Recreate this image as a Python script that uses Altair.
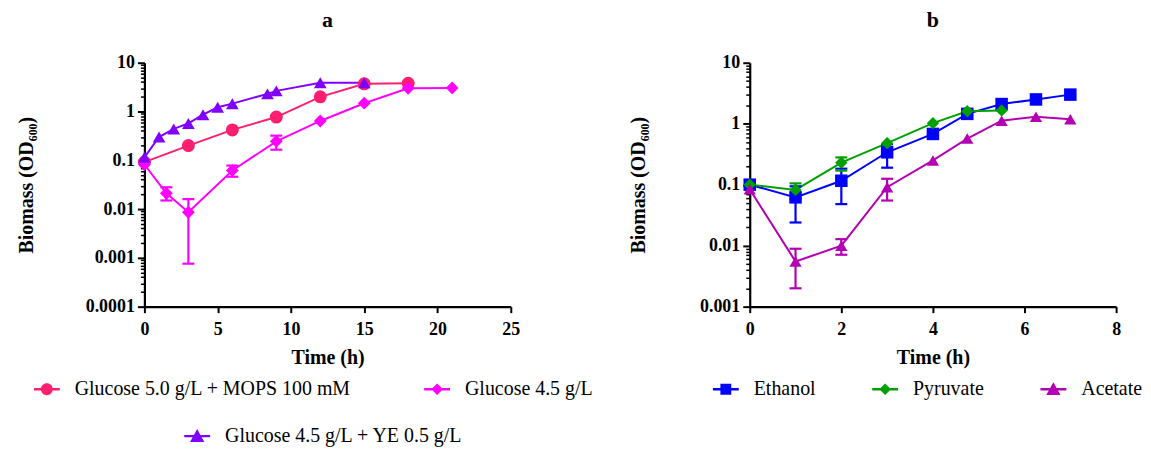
import altair as alt
import pandas as pd

FONT = "Liberation Serif"

# ---------------- Panel a data ----------------
a_names = ["Glucose 5.0 g/L + MOPS 100 mM", "Glucose 4.5 g/L", "Glucose 4.5 g/L + YE 0.5 g/L"]
a_colors = ["#FF1F70", "#FF00FF", "#7F00FF"]
a_shapes = ["circle", "diamond", "triangle-up"]
a_sizes = [170, 150, 175]

a1_t = [0, 3, 6, 9, 12, 15, 18]
a1_od = [0.092, 0.20, 0.42, 0.77, 2.0, 3.7, 3.8]
a2_t = [0, 1.5, 3, 6, 9, 12, 15, 18, 21]
a2_od = [0.082, 0.021, 0.0086, 0.062, 0.245, 0.64, 1.48, 3.0, 3.05]
a3_t = [0, 1, 2, 3, 4, 5, 6, 8.4, 9, 12, 15]
a3_od = [0.115, 0.30, 0.44, 0.57, 0.86, 1.22, 1.45, 2.3, 2.65, 3.9, 3.9]

a2_err_t = [1.5, 3, 6, 9]
a2_err_lo = [0.015, 0.00076, 0.046, 0.165]
a2_err_hi = [0.028, 0.016, 0.078, 0.32]

# ---------------- Panel b data ----------------
b_names = ["Ethanol", "Pyruvate", "Acetate"]
b_colors = ["#0000FF", "#00A000", "#B300B3"]
b_shapes = ["square", "diamond", "triangle-up"]
b_sizes = [220, 165, 175]

eth_t = [0, 1, 2, 3, 4, 4.75, 5.5, 6.25, 7]
eth_od = [0.10, 0.062, 0.116, 0.34, 0.68, 1.45, 2.1, 2.5, 3.0]
pyr_t = [0, 1, 2, 3, 4, 4.75, 5.5]
pyr_od = [0.10, 0.082, 0.23, 0.48, 1.02, 1.6, 1.65]
ace_t = [0, 1, 2, 3, 4, 4.75, 5.5, 6.25, 7]
ace_od = [0.084, 0.0055, 0.0100, 0.091, 0.25, 0.57, 1.12, 1.30, 1.18]

eth_err_t = [1, 2, 3]
eth_err_lo = [0.024, 0.048, 0.19]
eth_err_hi = [0.094, 0.183, 0.46]
pyr_err_t = [1, 2]
pyr_err_lo = [0.058, 0.17]
pyr_err_hi = [0.105, 0.28]
ace_err_t = [1, 2, 3]
ace_err_lo = [0.0020, 0.0071, 0.055]
ace_err_hi = [0.0089, 0.0128, 0.125]

# legend symbols: a line through the marker
LINE = "M-1,-0.09L1,-0.09L1,0.09L-1,0.09Z "
PATHS = {
    "circle": LINE + "M0.46,0A0.46,0.46 0 1,1 -0.46,0A0.46,0.46 0 1,1 0.46,0Z",
    "diamond": LINE + "M0,-0.45L0.45,0L0,0.45L-0.45,0Z",
    "triangle-up": LINE + "M0,-0.55L0.55,0.45L-0.55,0.45Z",
    "square": LINE + "M-0.42,-0.42L0.42,-0.42L0.42,0.42L-0.42,0.42Z",
}


def long_df(names, ts, ods):
    rows = []
    for n, t, o in zip(names, ts, ods):
        for ti, oi in zip(t, o):
            rows.append({"series": n, "t": ti, "od": oi})
    return pd.DataFrame(rows)


def err_df(names, ts, los, his):
    rows = []
    for n, t, lo, hi in zip(names, ts, los, his):
        for ti, l, h in zip(t, lo, hi):
            rows.append({"series": n, "t": ti, "lo": l, "hi": h})
    return pd.DataFrame(rows)


def panel(df, edf, names, colors, shapes, sizes, xdom, xvals, ydom, yvals,
          minor, title, legends, ytitle_pad):
    xscale = alt.Scale(domain=xdom, nice=False, zero=False)
    yscale = alt.Scale(type="log", domain=ydom, nice=False)
    cscale = alt.Scale(domain=names, range=colors)

    x_main = alt.X("t:Q", scale=xscale, axis=alt.Axis(
        values=xvals, title="Time (h)", labelFlush=False, labelOverlap=False,
        tickSize=6, labelPadding=8, titlePadding=9))
    x_plain = alt.X("t:Q", scale=xscale)

    y_main = alt.Y("od:Q", scale=yscale, axis=alt.Axis(
        values=yvals, format="~g", title="Biomass (OD₆₀₀)", orient="left",
        labelOverlap=False, tickSize=7, labelPadding=3, titlePadding=ytitle_pad))

    def y_none(field):
        return alt.Y(field, scale=yscale, axis=None)

    color_none = alt.Color("series:N", scale=cscale, legend=None)

    lines = alt.Chart(df).mark_line(strokeWidth=2).encode(
        x=x_main, y=y_main, color=color_none, detail="series:N")

    rules = alt.Chart(edf).mark_rule(strokeWidth=2.2).encode(
        x=x_plain,
        y=alt.Y("lo:Q", scale=yscale, axis=alt.Axis(
            values=minor, labels=False, domain=False, grid=False, tickSize=4,
            tickWidth=1.5, title=None, orient="left")),
        y2="hi:Q", color=color_none)

    caps = alt.Chart(edf).transform_fold(["lo", "hi"], as_=["end", "val"]).mark_point(
        shape="stroke", filled=False, size=144, strokeWidth=2.2, opacity=1).encode(
        x=x_plain, y=y_none("val:Q"), color=color_none)

    points = alt.Chart(df).mark_point(filled=True, opacity=1).encode(
        x=x_plain, y=y_none("od:Q"), color=color_none,
        shape=alt.Shape("series:N", scale=alt.Scale(domain=names, range=shapes), legend=None),
        size=alt.Size("series:N", scale=alt.Scale(domain=names, range=sizes), legend=None))

    layers = [lines, rules, caps, points]
    for (sub, lx, ly, colpad) in legends:
        sub_colors = [colors[names.index(s)] for s in sub]
        sub_paths = [PATHS[shapes[names.index(s)]] for s in sub]
        leg = alt.Legend(title=None, orient="none", legendX=lx, legendY=ly,
                         direction="horizontal", columnPadding=colpad,
                         labelFont=FONT, labelFontSize=20, labelColor="black",
                         labelOffset=15, symbolSize=676, symbolOpacity=1,
                         symbolStrokeWidth=0, padding=0, labelLimit=0)
        layers.append(
            alt.Chart(df).transform_filter(
                alt.FieldOneOfPredicate(field="series", oneOf=sub)
            ).mark_point(filled=True, opacity=0).encode(
                x=x_plain, y=y_none("od:Q"),
                color=alt.Color("series:N", scale=alt.Scale(domain=sub, range=sub_colors), legend=leg),
                shape=alt.Shape("series:N", scale=alt.Scale(domain=sub, range=sub_paths), legend=leg),
            ))

    return alt.layer(*layers).resolve_scale(
        color="independent", shape="independent").resolve_axis(
        y="independent").properties(
        width=368, height=245,
        title=alt.TitleParams(title, font=FONT, fontSize=22, fontWeight="bold",
                              color="black", anchor="middle", offset=22))


a_df = long_df(a_names, [a1_t, a2_t, a3_t], [a1_od, a2_od, a3_od])
a_edf = err_df([a_names[1]], [a2_err_t], [a2_err_lo], [a2_err_hi])
b_df = long_df(b_names, [eth_t, pyr_t, ace_t], [eth_od, pyr_od, ace_od])
b_edf = err_df(b_names, [eth_err_t, pyr_err_t, ace_err_t],
               [eth_err_lo, pyr_err_lo, ace_err_lo], [eth_err_hi, pyr_err_hi, ace_err_hi])

a_minor = [m * 10.0 ** k for k in range(-4, 1) for m in range(2, 10)]
b_minor = [m * 10.0 ** k for k in range(-3, 1) for m in range(2, 10)]

chart_a = panel(a_df, a_edf, a_names, a_colors, a_shapes, a_sizes,
                [0, 25], [0, 5, 10, 15, 20, 25], [0.0001, 10],
                [0.0001, 0.001, 0.01, 0.1, 1, 10], a_minor, "a",
                [([a_names[0], a_names[1]], -111, 315, 73),
                 ([a_names[2]], 40, 362, 10)], 49)

chart_b = panel(b_df, b_edf, b_names, b_colors, b_shapes, b_sizes,
                [0, 8], [0, 2, 4, 6, 8], [0.001, 10],
                [0.001, 0.01, 0.1, 1, 10], b_minor, "b",
                [(b_names, -37, 315, 56)], 51)

chart = alt.hconcat(chart_a, chart_b, spacing=240, bounds="flush").properties(
    padding={"left": 8, "top": 0, "right": 0, "bottom": 0},
    background="white"
).configure_view(stroke=None).configure_axis(
    domainColor="black", domainWidth=2.2, tickColor="black", tickWidth=2,
    labelFont=FONT, labelFontSize=18, labelFontWeight="bold", labelColor="black",
    titleFont=FONT, titleFontSize=20, titleFontWeight="bold", titleColor="black",
    grid=False
)

chart.save("out.html", embed_options={"renderer": "svg", "actions": False})
